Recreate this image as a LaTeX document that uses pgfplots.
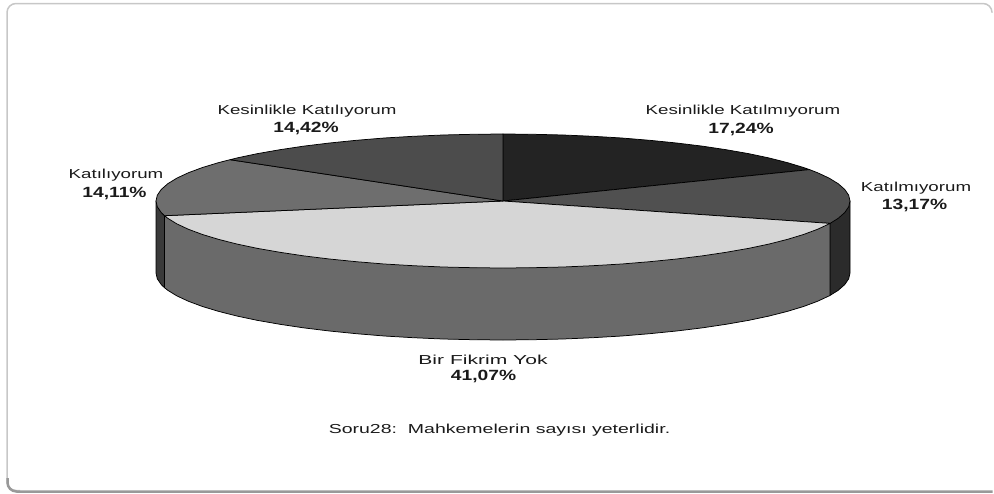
\documentclass[border=0pt]{standalone}
\usepackage{pgfplots}
\pgfplotsset{compat=1.18}
\usepackage{fontspec}
\setmainfont{Liberation Sans}
\newfontfamily\widelab[FakeStretch=1.44]{Liberation Sans}
\newfontfamily\widebir[FakeStretch=1.62]{Liberation Sans}
\newfontfamily\widecap[FakeStretch=1.5]{Liberation Sans}
\newfontfamily\wideval[FakeStretch=1.3]{Liberation Sans Bold}
\definecolor{s1}{HTML}{232323}
\definecolor{s2}{HTML}{505050}
\definecolor{s3}{HTML}{D6D6D6}
\definecolor{s4}{HTML}{6E6E6E}
\definecolor{s5}{HTML}{4C4C4C}
\definecolor{wf}{HTML}{6A6A6A}
\definecolor{wr}{HTML}{2B2B2B}
\definecolor{wl}{HTML}{3A3A3A}
\definecolor{tx}{HTML}{1A1A1A}
\begin{document}
\begin{tikzpicture}
\begin{axis}[
  scale only axis, width=994pt, height=493pt,
  xmin=0, xmax=994, ymin=0, ymax=493, y dir=reverse,
  hide axis, clip=false,
  every axis plot/.append style={draw=black, line width=0.75pt, line join=round, no markers},
]
% page extent and frame
\path (axis cs:0,0) rectangle (axis cs:994,493);
\draw[draw=black!22, line width=1.5pt, rounded corners=9pt] (axis cs:20,490.5) -- (axis cs:7,490.5) -- (axis cs:7,3.5) -- (axis cs:992,3.5) -- (axis cs:992,12);
\draw[draw=black!40, line width=2.5pt, rounded corners=9pt] (axis cs:7.5,478) -- (axis cs:7.5,491.5) -- (axis cs:992.5,491.5);
% walls
\addplot[fill=wr] coordinates {(850,201)(850,273)(848.7,278.8)(844.7,284.6)(838.2,290.3)(830.1,295.4)(830.1,223.4)} --cycle;
\addplot[fill=wl] coordinates {(164.5,215.7)(164.5,287.7)(161.3,284.6)(157.3,278.8)(156,273)(156,201)} --cycle;
\addplot[fill=wf] coordinates {(830.1,223.4)(830.1,295.4)(829.1,295.9)(817.5,301.3)(803.5,306.5)(787.3,311.4)(768.8,316.1)(748.4,320.4)(726,324.3)(702,327.9)(676.5,331)(649.6,333.7)(621.7,336)(592.8,337.7)(563.2,339)(533.2,339.7)(503,340)(472.8,339.7)(442.8,339)(413.2,337.7)(384.3,336)(356.4,333.7)(329.5,331)(304,327.9)(280,324.3)(257.6,320.4)(237.2,316.1)(218.7,311.4)(202.5,306.5)(188.5,301.3)(176.9,295.9)(167.8,290.3)(164.5,287.7)(164.5,215.7)} --cycle;
% top face
\addplot[fill=s1] coordinates {(503,201)(503,134)(533.2,134.3)(563.2,135)(592.8,136.3)(621.7,138)(649.6,140.3)(676.5,143)(702,146.1)(726,149.7)(748.4,153.6)(768.8,157.9)(787.3,162.6)(803.5,167.5)(809.5,169.6)} --cycle;
\addplot[fill=s2] coordinates {(503,201)(809.5,169.6)(817.5,172.7)(829.1,178.1)(838.2,183.7)(844.7,189.4)(848.7,195.2)(850,201)(848.7,206.8)(844.7,212.6)(838.2,218.3)(830.1,223.4)} --cycle;
\addplot[fill=s3] coordinates {(503,201)(830.1,223.4)(829.1,223.9)(817.5,229.3)(803.5,234.5)(787.3,239.4)(768.8,244.1)(748.4,248.4)(726,252.3)(702,255.9)(676.5,259)(649.6,261.7)(621.7,264)(592.8,265.7)(563.2,267)(533.2,267.7)(503,268)(472.8,267.7)(442.8,267)(413.2,265.7)(384.3,264)(356.4,261.7)(329.5,259)(304,255.9)(280,252.3)(257.6,248.4)(237.2,244.1)(218.7,239.4)(202.5,234.5)(188.5,229.3)(176.9,223.9)(167.8,218.3)(164.5,215.7)} --cycle;
\addplot[fill=s4] coordinates {(503,201)(164.5,215.7)(161.3,212.6)(157.3,206.8)(156,201)(157.3,195.2)(161.3,189.4)(167.8,183.7)(176.9,178.1)(188.5,172.7)(202.5,167.5)(218.7,162.6)(230,159.7)} --cycle;
\addplot[fill=s5] coordinates {(503,201)(230,159.7)(237.2,157.9)(257.6,153.6)(280,149.7)(304,146.1)(329.5,143)(356.4,140.3)(384.3,138)(413.2,136.3)(442.8,135)(472.8,134.3)(503,134)} --cycle;
% labels
\tikzset{lbl/.style={text=tx, inner sep=0pt, font=\widelab\fontsize{13}{15}\selectfont}, cpt/.style={text=tx, inner sep=0pt, font=\widecap\fontsize{13}{15}\selectfont}, vl/.style={text=tx, inner sep=0pt, font=\wideval\fontsize{14.8}{16}\selectfont}}
\node[lbl] at (axis cs:307,111.5) {Kesinlikle Katılıyorum};
\node[vl] at (axis cs:306,128.5) {14,42\%};
\node[lbl] at (axis cs:743,111.5) {Kesinlikle Katılmıyorum};
\node[vl] at (axis cs:741,129.5) {17,24\%};
\node[lbl] at (axis cs:116,175.5) {Katılıyorum};
\node[vl] at (axis cs:114.5,193.5) {14,11\%};
\node[lbl] at (axis cs:916,188.5) {Katılmıyorum};
\node[vl] at (axis cs:914.5,205.5) {13,17\%};
\node[lbl,font=\widebir\fontsize{13}{15}\selectfont] at (axis cs:483,359.5) {Bir Fikrim Yok};
\node[vl] at (axis cs:483.5,376.5) {41,07\%};
\node[cpt] at (axis cs:499.5,430.5) {Soru28:\ \ Mahkemelerin sayısı yeterlidir.};
\end{axis}
\end{tikzpicture}
\end{document}
